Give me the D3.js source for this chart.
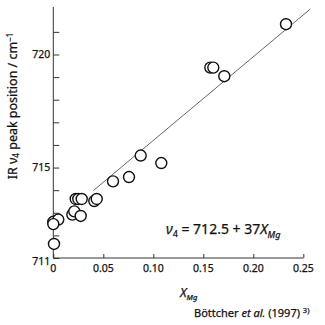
<!DOCTYPE html>
<html>
<head>
<meta charset="utf-8">
<script src="https://cdn.jsdelivr.net/npm/d3@7"></script>
<style>
  html, body { margin: 0; padding: 0; background: #fff; }
  svg { display: block; font-family: "Noto Sans", "Open Sans", sans-serif; }
  text { stroke: #111; stroke-width: 0.25px; }
</style>
</head>
<body>
<svg id="chart" width="325" height="325"></svg>
<script>
// Mg mole fraction in calcite vs. IR nu4 band position (cm^-1)
const xMg = [0.2327, 0.157, 0.160, 0.171, 0.0874, 0.108, 0.0757, 0.0597,
             0.0224, 0.025, 0.0284, 0.041, 0.0434,
             0.019, 0.021, 0.0274,
             0.0, 0.005, 0.0, 0.0007];
const nu4 = [721.34, 719.42, 719.42, 719.04, 715.53, 715.2, 714.58, 714.39,
             713.61, 713.61, 713.61, 713.52, 713.61,
             712.92, 713.06, 712.86,
             712.6, 712.7, 712.5, 711.62];

// Regression: nu4 = 712.5 + 37 X_Mg
const fitIntercept = 712.5;
const fitSlope = 37;
const fitRange = [0.04, 0.257];

const xTickValues = [0, 0.05, 0.10, 0.15, 0.20, 0.25];
const xTickLabels = ["0", "0.05", "0.10", "0.15", "0.20", "0.25"];
const yTickValues = [711, 712, 713, 714, 715, 716, 717, 718, 719, 720, 721];
const yTickLabels = ["711", "", "", "", "715", "", "", "", "", "720", ""];

const svg = d3.select("#chart");
const x = d3.scaleLinear().domain([0, 0.25]).range([53.3, 303.3]);
const y = d3.scaleLinear().domain([711, 722.1]).range([258, 7]);

const axisColor = "#333";

// y axis (ticks point into the plot)
const yAxis = svg.append("g")
  .attr("transform", `translate(${x(0)},0)`)
  .call(d3.axisRight(y).tickValues(yTickValues).tickSize(6).tickFormat(() => ""));
yAxis.select(".domain").remove();
yAxis.selectAll(".tick line").attr("stroke", axisColor).attr("stroke-width", 1);
svg.append("line")
  .attr("x1", x(0)).attr("x2", x(0))
  .attr("y1", y(711)).attr("y2", y(722.1))
  .attr("stroke", axisColor).attr("stroke-width", 1);

svg.append("g").selectAll("text")
  .data(yTickValues.map((v, i) => ({v, t: yTickLabels[i]})).filter(d => d.t))
  .join("text")
  .attr("x", x(0) - 3)
  .attr("y", d => y(d.v) + (d.v === 711 ? 7 : 3.8))
  .attr("text-anchor", "end")
  .attr("font-size", 10.5)
  .attr("fill", "#111")
  .text(d => d.t);

// x axis (ticks point up)
const xAxis = svg.append("g")
  .attr("transform", `translate(0,${y(711)})`)
  .call(d3.axisTop(x).tickValues(xTickValues).tickSize(4).tickFormat(() => ""));
xAxis.select(".domain").remove();
xAxis.selectAll(".tick line").attr("stroke", axisColor).attr("stroke-width", 1);
svg.append("line")
  .attr("x1", x(0)).attr("x2", x(0.25))
  .attr("y1", y(711)).attr("y2", y(711))
  .attr("stroke", axisColor).attr("stroke-width", 1);

svg.append("g").selectAll("text")
  .data(xTickValues.map((v, i) => ({v, t: xTickLabels[i]})))
  .join("text")
  .attr("x", d => x(d.v))
  .attr("y", y(711) + 14)
  .attr("text-anchor", "middle")
  .attr("font-size", 10.5)
  .attr("fill", "#111")
  .text(d => d.t);

// fitted line
svg.append("line")
  .attr("x1", x(fitRange[0])).attr("y1", y(fitIntercept + fitSlope * fitRange[0]))
  .attr("x2", x(fitRange[1])).attr("y2", y(fitIntercept + fitSlope * fitRange[1]))
  .attr("stroke", "#555").attr("stroke-width", 0.9);

// data points
svg.append("g").selectAll("circle")
  .data(xMg.map((v, i) => [v, nu4[i]]))
  .join("circle")
  .attr("cx", d => x(d[0]))
  .attr("cy", d => y(d[1]))
  .attr("r", 5.5)
  .attr("fill", "#fff")
  .attr("stroke", "#111")
  .attr("stroke-width", 1.4);

// y axis title
const yTitle = svg.append("text")
  .attr("transform", `translate(17,${106}) rotate(-90)`)
  .attr("text-anchor", "middle")
  .attr("font-size", 12.5)
  .attr("fill", "#111");
yTitle.append("tspan").text("IR ν");
yTitle.append("tspan").attr("font-size", 8).attr("dy", 2).text("4");
yTitle.append("tspan").attr("dy", -2).text(" peak position / cm");
yTitle.append("tspan").attr("font-size", 8).attr("dy", -4.5).text("−1");

// x axis title
const xTitle = svg.append("text")
  .attr("x", 180).attr("y", 297)
  .attr("font-size", 12.5)
  .attr("fill", "#111");
xTitle.append("tspan").attr("font-style", "italic").text("X");
xTitle.append("tspan").attr("font-style", "italic").attr("font-size", 7.5).attr("dy", 3).text("Mg");

// equation
const eq = svg.append("text")
  .attr("x", 166).attr("y", 234)
  .attr("font-size", 14)
  .attr("fill", "#111");
eq.append("tspan").attr("font-style", "italic").text("ν");
eq.append("tspan").attr("font-size", 9).attr("dy", 3).text("4");
eq.append("tspan").attr("dy", -3).text(" = 712.5 + 37");
eq.append("tspan").attr("font-style", "italic").text("X");
eq.append("tspan").attr("font-style", "italic").attr("font-size", 9).attr("dy", 4).text("Mg");

// source
const src = svg.append("text")
  .attr("x", 194).attr("y", 317)
  .attr("font-size", 11)
  .attr("fill", "#111");
src.append("tspan").text("Böttcher ");
src.append("tspan").attr("font-style", "italic").text("et al.");
src.append("tspan").text(" (1997) ");
src.append("tspan").attr("font-size", 7.5).attr("dy", -4).text("3)");
</script>
</body>
</html>
